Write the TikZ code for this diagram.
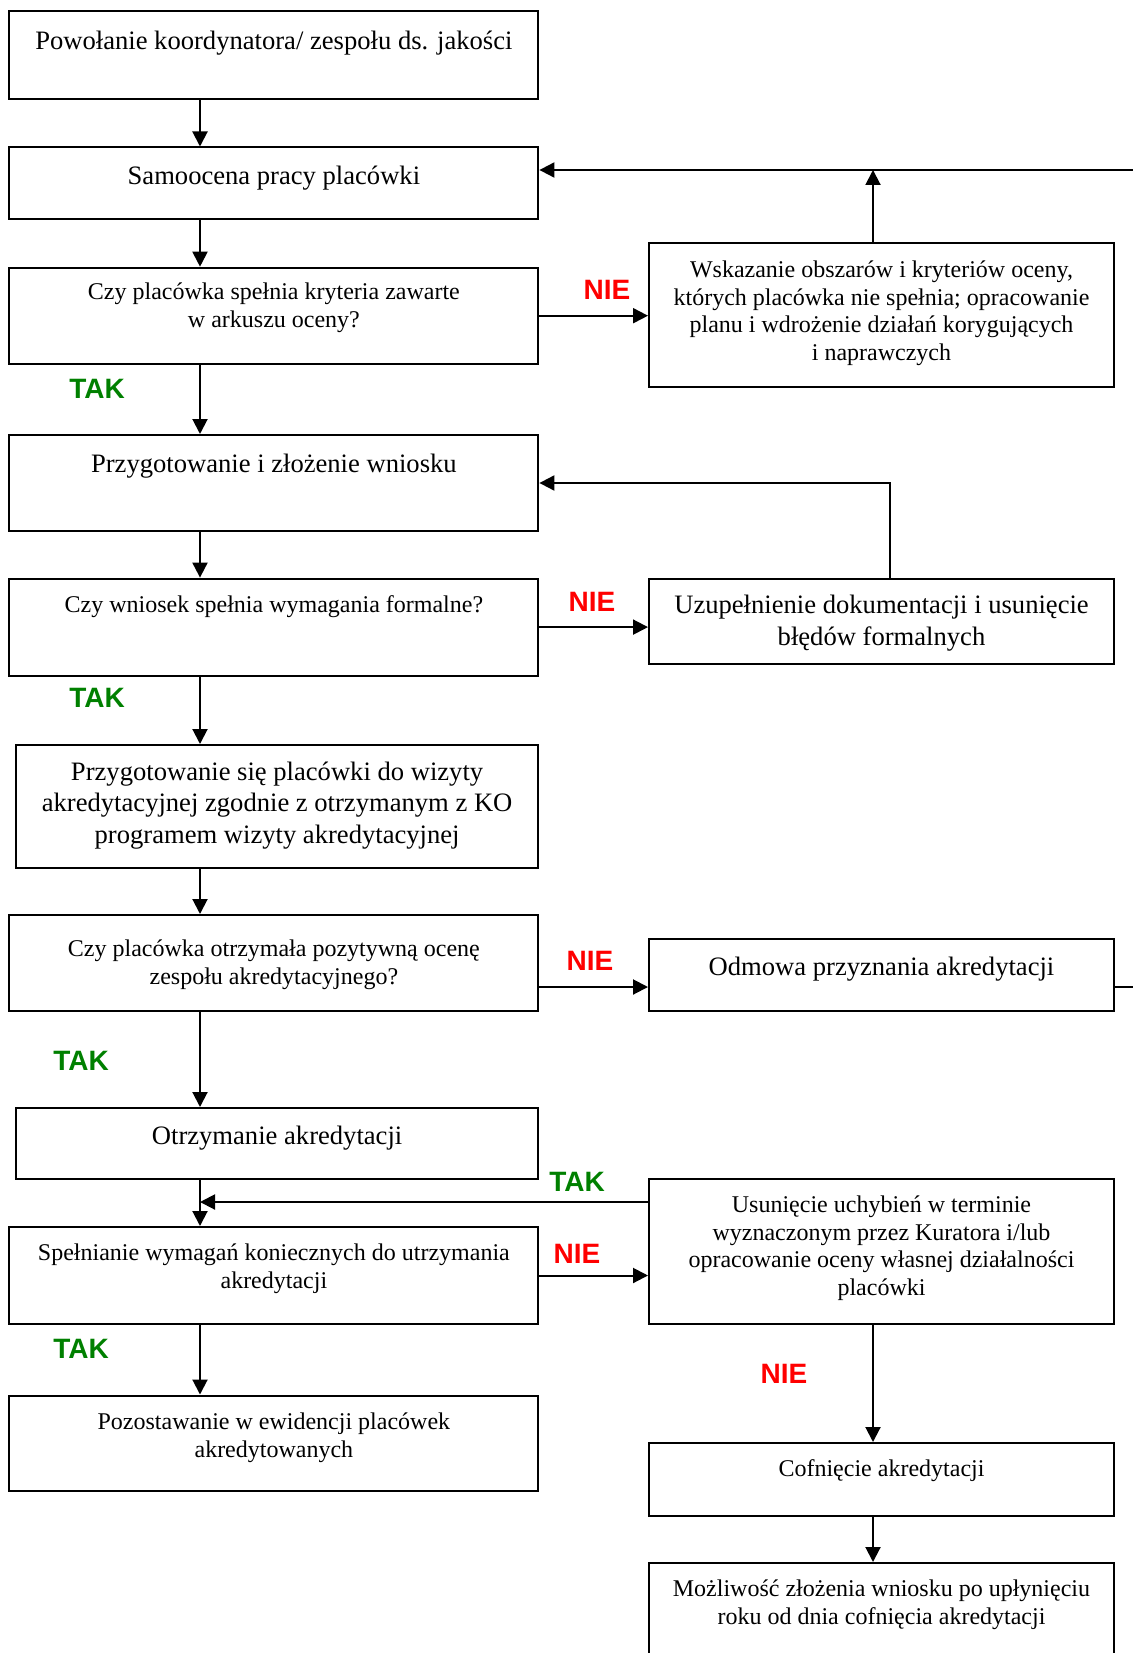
\documentclass[tikz,border=0pt]{standalone}
\usepackage{fontspec}
\setmainfont{Liberation Serif}
\newfontfamily\labelfont{Liberation Sans}
\usetikzlibrary{arrows.meta,positioning}

\tikzset{
  box/.style n args={3}{draw, line width=1pt, anchor=north west, inner sep=0pt,
    execute at begin node={\begin{minipage}[t][#2][t]{#1}\centering\vspace*{#3}},
    execute at end node={\end{minipage}}},
  bigtext/.style={font=\fontsize{13.3}{15.7}\selectfont},
  smalltext/.style={font=\fontsize{12}{13.9}\selectfont},
  arr/.style={line width=1pt, -{Triangle[width=7.5pt,length=7.5pt]}},
  tak/.style={font=\labelfont\bfseries\fontsize{14}{16}\selectfont, text=takcol},
  nie/.style={font=\labelfont\bfseries\fontsize{14}{16}\selectfont, text=niecol},
}

\begin{document}
\begin{tikzpicture}[x=0.5pt,y=-0.5pt]
  \colorlet{takcol}{green!50!black}
  \colorlet{niecol}{red}

  \useasboundingbox (0,0) rectangle (1133,1653);
  \clip (0,0) rectangle (1133,1653);

  % left column
  \node[box={264.5pt}{43.75pt}{9.6pt}, bigtext] (powolanie) at (8.4,10.5)
    {Powołanie koordynatora/ zespołu ds. jakości};
  \node[box={264.5pt}{35.75pt}{9.1pt}, bigtext] (samoocena) at (8.4,146.5)
    {Samoocena pracy placówki};
  \node[box={264.5pt}{48pt}{7.8pt}, smalltext] (kryteria) at (8.4,266.7)
    {Czy placówka spełnia kryteria zawarte\\ w arkuszu oceny?};
  \node[box={264.5pt}{48pt}{9.35pt}, bigtext] (wniosek) at (8.4,434)
    {Przygotowanie i złożenie wniosku};
  \node[box={264.5pt}{48.5pt}{8.3pt}, smalltext] (formalne) at (8.4,577.6)
    {Czy wniosek spełnia wymagania formalne?};
  \node[box={261.3pt}{61.25pt}{8.35pt}, bigtext] (wizyta) at (14.8,744)
    {Przygotowanie się placówki do wizyty\\ akredytacyjnej zgodnie z otrzymanym z KO\\ programem wizyty akredytacyjnej};
  \node[box={264.5pt}{48pt}{12.5pt}, smalltext] (ocena) at (8.4,914)
    {Czy placówka otrzymała pozytywną ocenę\\ zespołu akredytacyjnego?};
  \node[box={261.3pt}{35.5pt}{8.85pt}, bigtext] (otrzymanie) at (14.8,1107)
    {Otrzymanie akredytacji};
  \node[box={264.5pt}{48.5pt}{8.3pt}, smalltext] (spelnianie) at (8.4,1226)
    {Spełnianie wymagań koniecznych do utrzymania\\ akredytacji};
  \node[box={264.5pt}{47.75pt}{8.5pt}, smalltext] (pozostawanie) at (8.4,1394.5)
    {Pozostawanie w ewidencji placówek\\ akredytowanych};

  % right column
  \node[box={232.5pt}{72pt}{8.8pt}, smalltext] (wskazanie) at (648,242)
    {Wskazanie obszarów i kryteriów oceny,\\ których placówka nie spełnia; opracowanie\\ planu i wdrożenie działań korygujących\\ i naprawczych};
  \node[box={232.5pt}{42.7pt}{8.35pt}, bigtext] (uzupelnienie) at (648,577.6)
    {Uzupełnienie dokumentacji i usunięcie\\ błędów formalnych};
  \node[box={232.5pt}{36pt}{9.1pt}, bigtext] (odmowa) at (648,938)
    {Odmowa przyznania akredytacji};
  \node[box={232.5pt}{72.5pt}{8.3pt}, smalltext] (usuniecie) at (648,1178)
    {Usunięcie uchybień w terminie\\ wyznaczonym przez Kuratora i/lub\\ opracowanie oceny własnej działalności\\ placówki};
  \node[box={232.5pt}{36.5pt}{8.3pt}, smalltext] (cofniecie) at (648,1442)
    {Cofnięcie akredytacji};
  \node[box={232.5pt}{60pt}{8.3pt}, smalltext] (mozliwosc) at (648,1562)
    {Możliwość złożenia wniosku po upłynięciu\\ roku od dnia cofnięcia akredytacji};

  \coordinate (spine) at (200,0);
  \coordinate (rspine) at (873,0);
  \coordinate (powrot) at (1140,170);

  % main flow
  \draw[arr] (powolanie.south -| spine) -- (samoocena.north -| spine);
  \draw[arr] (samoocena.south -| spine) -- (kryteria.north -| spine);
  \draw[arr] (kryteria.south -| spine) -- (wniosek.north -| spine);
  \draw[arr] (wniosek.south -| spine) -- (formalne.north -| spine);
  \draw[arr] (formalne.south -| spine) -- (wizyta.north -| spine);
  \draw[arr] (wizyta.south -| spine) -- (ocena.north -| spine);
  \draw[arr] (ocena.south -| spine) -- (otrzymanie.north -| spine);
  \draw[arr] (otrzymanie.south -| spine) -- (spelnianie.north -| spine);
  \draw[arr] (spelnianie.south -| spine) -- (pozostawanie.north -| spine);

  % side branches
  \draw[arr] (kryteria.east) -- (kryteria.east -| wskazanie.west);
  \draw[arr] (wskazanie.north -| rspine) -- (powrot -| rspine);
  \draw[arr] (powrot) -- (powrot -| samoocena.east);
  \draw[arr] (formalne.east) -- (formalne.east -| uzupelnienie.west);
  \draw[arr] ([xshift=4.25pt]uzupelnienie.north) |- (wniosek.east);
  \draw[arr] ([yshift=-12pt]ocena.east) coordinate (o) -- (o -| odmowa.west);
  \draw[line width=1pt] (o -| odmowa.east) -- (o -| powrot);
  \draw[arr] ([yshift=-12pt]usuniecie.north west) coordinate (u) -- (u -| spine);
  \draw[arr] (spelnianie.east) -- (spelnianie.east -| usuniecie.west);
  \draw[arr] (usuniecie.south -| rspine) -- (cofniecie.north -| rspine);
  \draw[arr] (cofniecie.south -| rspine) -- (mozliwosc.north -| rspine);

  % answers
  \node[nie] (nie1) at (607,290) {NIE};
  \node[tak] (tak1) at (97,389) {TAK};
  \node[nie] (nie2) at (592,602) {NIE};
  \node[tak] (tak2) at (97,698) {TAK};
  \node[nie] (nie3) at (590,961) {NIE};
  \node[tak] (tak3) at (81,1061) {TAK};
  \node[tak] (tak4) at (577,1182) {TAK};
  \node[nie] (nie4) at (577,1254) {NIE};
  \node[tak] (tak5) at (81,1349) {TAK};
  \node[nie] (nie5) at (784,1374) {NIE};
\end{tikzpicture}
\end{document}
